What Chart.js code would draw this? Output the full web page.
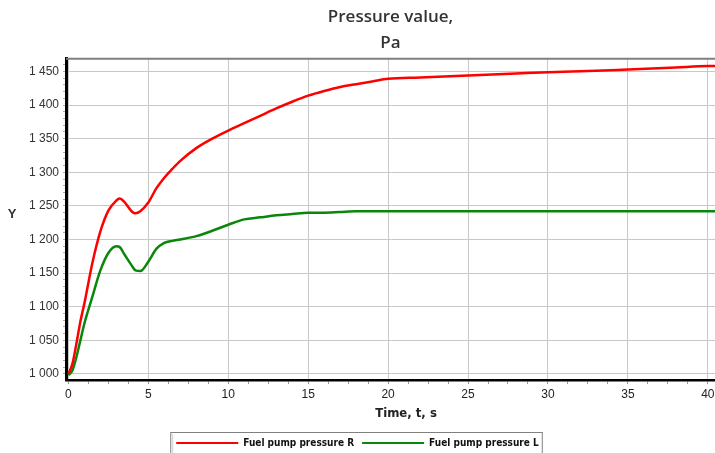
<!DOCTYPE html>
<html>
<head>
<meta charset="utf-8">
<script src="https://cdn.jsdelivr.net/npm/chart.js@4.4.1/dist/chart.umd.min.js"></script>
<style>
html,body{margin:0;padding:0;background:#fff;}
#wrap{width:715px;height:453px;position:relative;}
</style>
</head>
<body>
<div id="wrap"><canvas id="c"></canvas></div>
<script>
// ---- data ----
const times     = [0, 0.25, 0.5, 0.75, 1, 1.5, 2, 2.5, 3, 3.2, 3.5, 4, 4.2, 4.5, 5, 5.5, 6, 6.5, 7, 8, 9, 10, 11, 12, 13, 14, 15, 16, 17, 18, 19, 20, 22, 25, 28, 30, 33, 35, 38, 40, 40.5];
const pressureR = [1000, 1015, 1045, 1078, 1105, 1165, 1212, 1243, 1258, 1261, 1256, 1241, 1239, 1242, 1255, 1276, 1292, 1305, 1317, 1336, 1350, 1362, 1373, 1384, 1395, 1405, 1414, 1421, 1427, 1431, 1435, 1439, 1441, 1444, 1447, 1449, 1451, 1453, 1456, 1458, 1458];
const pressureL = [998, 1005, 1025, 1050, 1075, 1115, 1154, 1180, 1190, 1189, 1178, 1160, 1154, 1153, 1167, 1186, 1195, 1198, 1200, 1205, 1213, 1222, 1230, 1233, 1236, 1238, 1240, 1240, 1241, 1242, 1242, 1242, 1242, 1242, 1242, 1242, 1242, 1242, 1242, 1242, 1242];
const seriesNames = ['Fuel pump pressure R', 'Fuel pump pressure L'];
const chartTitle = ['Pressure value,', 'Pa'];
const xTitle = 'Time, t, s';
const yTitle = 'Y';
const yMajorTicks = [1000, 1050, 1100, 1150, 1200, 1250, 1300, 1350, 1400, 1450];
const xMajorTicks = [0, 5, 10, 15, 20, 25, 30, 35, 40];
const yMinorStep = 10;
const xMinorStep = 1.25;

function fmt(v){ return String(v).replace(/\B(?=(\d{3})+(?!\d))/g, ' '); }
function isMajor(list, v){ return list.some(m => Math.abs(m - v) < 1e-6); }

function buildTicks(lo, hi, step){
  const out = [];
  for (let v = lo; v <= hi + 1e-9; v += step) out.push(Math.round(v*1000)/1000);
  return out;
}

const LEGEND_SHIFT = 5;

const extras = {
  id: 'extras',
  afterLayout(chart){
    const lg = chart.legend;
    if (lg){ lg.top += LEGEND_SHIFT; lg.bottom += LEGEND_SHIFT;
      (lg.legendHitBoxes || []).forEach(h => { h.top += LEGEND_SHIFT; }); }
  },
  afterDraw(chart){
    const ctx = chart.ctx, a = chart.chartArea;
    ctx.save();
    // top frame
    ctx.strokeStyle = '#7f7f7f'; ctx.lineWidth = 2;
    ctx.beginPath(); ctx.moveTo(a.left, a.top); ctx.lineTo(a.right, a.top); ctx.stroke();
    // y title (upright)
    ctx.fillStyle = '#333'; ctx.font = 'bold 13px "Liberation Sans", Arial, sans-serif';
    ctx.textAlign = 'center'; ctx.textBaseline = 'middle';
    ctx.fillText(yTitle, 12, (a.top + a.bottom)/2 - 5);
    // x title
    ctx.fillStyle = '#222'; ctx.font = 'bold 13px "DejaVu Sans Condensed", "Liberation Sans Narrow", sans-serif';
    ctx.fillText(xTitle, 406, 414);
    // legend frame
    const hb = chart.legend && chart.legend.legendHitBoxes;
    if (hb && hb.length){
      const l = hb[0].left - 6, r = hb[hb.length-1].left + hb[hb.length-1].width + 3;
      const t = 432;
      ctx.strokeStyle = '#808080'; ctx.lineWidth = 1;
      ctx.strokeRect(l + 0.5, t + 0.5, r - l, chart.height - t + 5);
      ctx.strokeStyle = '#d0d0d0';
      ctx.beginPath(); ctx.moveTo(l + 2.5, t + 2); ctx.lineTo(l + 2.5, chart.height); ctx.stroke();
    }
    ctx.restore();
  }
};

new Chart(document.getElementById('c'), {
  type: 'line',
  data: {
    datasets: [
      { label: seriesNames[0], data: times.map((t,i)=>({x:t, y:pressureR[i]})),
        borderColor: '#ff0000', backgroundColor: '#ff0000', borderWidth: 2.5, pointRadius: 0,
        cubicInterpolationMode: 'monotone' },
      { label: seriesNames[1], data: times.map((t,i)=>({x:t, y:pressureL[i]})),
        borderColor: '#0a870a', backgroundColor: '#0a870a', borderWidth: 2.5, pointRadius: 0,
        cubicInterpolationMode: 'monotone' }
    ]
  },
  options: {
    responsive: true, maintainAspectRatio: false, animation: false,
    layout: { padding: 0 },
    plugins: {
      title: { display: true, text: chartTitle, fullSize: false, color: '#333',
        font: { family: '"Open Sans", sans-serif', size: 17, weight: '600', lineHeight: 1.55 },
        padding: { top: 4, bottom: 2 } },
      legend: { position: 'bottom',
        labels: { boxWidth: 62, boxHeight: 2, padding: 8, color: '#111',
          font: { family: '"DejaVu Sans Condensed", "Liberation Sans Narrow", sans-serif', size: 10, weight: 'bold' },
          generateLabels: chart => Chart.defaults.plugins.legend.labels.generateLabels(chart).map(it => Object.assign(it, { lineWidth: 0 })) } },
      tooltip: { enabled: false }
    },
    scales: {
      x: { type: 'linear', min: -0.15, max: 40.45,
        afterBuildTicks: s => { s.ticks = buildTicks(0, 40, xMinorStep).map(v=>({value:v})); },
        afterFit: s => { s.height = 45; s.paddingLeft = 0; s.paddingRight = 0; },
        ticks: { autoSkip: false, maxRotation: 0, padding: 3, color: '#222',
          font: { family: '"Liberation Sans", Arial, sans-serif', size: 12 },
          callback: v => isMajor(xMajorTicks, v) ? fmt(v) : '' },
        grid: { color: c => isMajor(xMajorTicks, c.tick ? c.tick.value : NaN) ? '#c8c8c8' : 'rgba(0,0,0,0)',
          tickColor: '#999', tickLength: 4, lineWidth: 1 },
        border: { color: '#000', width: 2.5 } },
      y: { min: 991, max: 1469,
        afterBuildTicks: s => { s.ticks = buildTicks(1000, 1460, yMinorStep).map(v=>({value:v})); },
        afterFit: s => { s.width = 66; s.paddingTop = 0; s.paddingBottom = 0; },
        ticks: { autoSkip: false, padding: 4, color: '#333',
          font: { family: '"Liberation Sans", Arial, sans-serif', size: 12 },
          callback: v => isMajor(yMajorTicks, v) ? fmt(v) : '' },
        grid: { color: c => isMajor(yMajorTicks, c.tick ? c.tick.value : NaN) ? '#c8c8c8' : 'rgba(0,0,0,0)',
          tickColor: '#aaa', tickLength: 3, lineWidth: 1 },
        border: { color: '#000', width: 3 } }
    }
  },
  plugins: [extras]
});
</script>
</body>
</html>
